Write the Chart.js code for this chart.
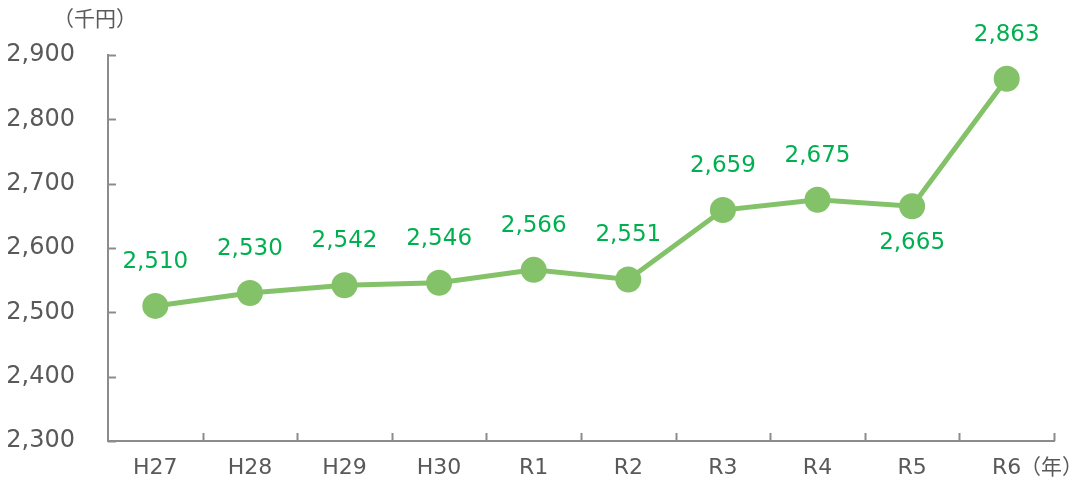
<!DOCTYPE html>
<html>
<head>
<meta charset="utf-8">
<script src="https://cdn.jsdelivr.net/npm/chart.js@4"></script>
<style>
  html, body { margin: 0; padding: 0; background: #fff; overflow: hidden; }
  canvas { display: block; }
</style>
</head>
<body>
<canvas id="chart" width="1077" height="481"></canvas>
<script>
const years = ["H27", "H28", "H29", "H30", "R1", "R2", "R3", "R4", "R5", "R6"];
const values = [2510, 2530, 2542, 2546, 2566, 2551, 2659, 2675, 2665, 2863];
const labelBelow = [false, false, false, false, false, false, false, false, true, false];

const lineColor = '#84c26a';
const labelColor = '#00b050';
const axisColor = '#8c8c8c';
const textColor = '#595959';
const fontFamily = "'DejaVu Sans', Verdana, sans-serif";
const cjkFamily = "'Noto Sans CJK JP', sans-serif";

// 値ラベルと軸の内向き目盛り、単位表示
const extras = {
    id: 'extras',
    afterDatasetsDraw(chart) {
        const ctx = chart.ctx;
        const area = chart.chartArea;
        const yScale = chart.scales.y;
        ctx.save();
        ctx.strokeStyle = axisColor;
        ctx.lineWidth = 2;
        // y 軸目盛り
        yScale.ticks.forEach(t => {
            const py = Math.round(yScale.getPixelForValue(t.value)) + 0.5;
            ctx.beginPath();
            ctx.moveTo(area.left, py);
            ctx.lineTo(area.left + 8, py);
            ctx.stroke();
        });
        // x 軸目盛り (区切り)
        const n = years.length;
        for (let i = 1; i <= n; i++) {
            const px = Math.round(area.left + i * (area.right - area.left) / n) + 0.5;
            ctx.beginPath();
            ctx.moveTo(px, area.bottom);
            ctx.lineTo(px, area.bottom - 8);
            ctx.stroke();
        }
        // 値ラベル
        const meta = chart.getDatasetMeta(0);
        ctx.fillStyle = labelColor;
        ctx.font = '23px ' + fontFamily;
        ctx.textAlign = 'center';
        ctx.textBaseline = 'middle';
        meta.data.forEach((pt, i) => {
            const off = labelBelow[i] ? 37 : -44;
            ctx.fillText(values[i].toLocaleString('en-US'), pt.x, pt.y + off);
        });
        // 単位
        ctx.fillStyle = textColor;
        ctx.font = '21px ' + cjkFamily;
        ctx.textAlign = 'center';
        ctx.fillText('（千円）', 95, 18);
        ctx.font = '21px ' + cjkFamily;
        ctx.textAlign = 'left';
        ctx.fillText('（年）', 1020, 466);
        ctx.restore();
    }
};

new Chart(document.getElementById('chart'), {
    type: 'line',
    data: {
        labels: years,
        datasets: [{
            data: values,
            borderColor: lineColor,
            backgroundColor: lineColor,
            borderWidth: 5,
            pointRadius: 13,
            pointHoverRadius: 13,
            pointBackgroundColor: lineColor,
            pointBorderWidth: 0,
            tension: 0
        }]
    },
    options: {
        responsive: false,
        animation: false,
        layout: { padding: { top: 55, right: 23, bottom: 0, left: 0 } },
        plugins: {
            legend: { display: false },
            tooltip: { enabled: false }
        },
        scales: {
            x: {
                offset: true,
                grid: { display: false, drawTicks: false },
                border: { display: true, color: axisColor, width: 2 },
                ticks: {
                    color: textColor,
                    padding: 14,
                    font: { size: 22, family: fontFamily }
                },
                afterFit(scale) {
                    scale.height = 40;
                    scale.paddingLeft = 0;
                    scale.paddingRight = 0;
                }
            },
            y: {
                min: 2300,
                max: 2900,
                grid: { display: false, drawTicks: false },
                border: { display: true, color: axisColor, width: 2 },
                ticks: {
                    stepSize: 100,
                    color: textColor,
                    padding: 33,
                    font: { size: 24, family: fontFamily },
                    callback: v => v.toLocaleString('en-US')
                },
                afterFit(scale) {
                    scale.width = 108;
                    scale.paddingTop = 0;
                    scale.paddingBottom = 0;
                }
            }
        }
    },
    plugins: [extras]
});
</script>
</body>
</html>
